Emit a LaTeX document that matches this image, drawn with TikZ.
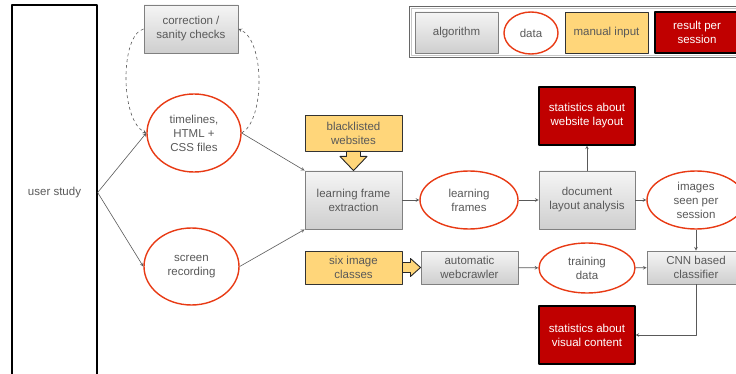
\documentclass[tikz,border=0pt]{standalone}
\usepackage{fontspec}
\setmainfont{Liberation Sans}
\usetikzlibrary{shapes.geometric}
\definecolor{txtgray}{HTML}{595959}
\definecolor{datared}{RGB}{232,58,20}
\definecolor{manualfill}{RGB}{255,214,122}
\definecolor{resultred}{HTML}{C00000}
\definecolor{algoline}{HTML}{808080}
\begin{document}
\begin{tikzpicture}[>=stealth,line join=round,x=1pt,y=-1pt,
	font=\fontsize{11.5}{14}\selectfont,
	box/.style={rectangle,inner sep=0pt,align=center,text=txtgray},
	algo/.style={box,draw=algoline,line width=0.9pt,top color=gray!8,bottom color=gray!38},
	data/.style={ellipse,inner sep=0pt,align=center,text=txtgray,draw=datared,line width=1.4pt,fill=white},
	manual/.style={box,draw=black!80,line width=0.9pt,fill=manualfill},
	result/.style={box,draw=black,line width=1.1pt,fill=resultred,text=white},
	link/.style={->,draw=black!65,line width=0.6pt},
	check/.style={link,dashed},
	blockarrow/.style={draw=black!85,line width=0.9pt,fill=manualfill}]
	\clip (0,0) rectangle (736,374);
	\useasboundingbox (0,0) rectangle (736,374);
	% legend
	\node[box,draw=black!60,line width=1pt,minimum width=336,minimum height=51] (legend) at (577,32.5) {};
	\node[box,draw=gray!45,line width=1pt,minimum width=332,minimum height=47] (legendin) at (577,32.5) {};
	\node[algo,minimum width=83,minimum height=41] (lalgo) at (456.5,32.5) {algorithm};
	\node[data,minimum width=54,minimum height=42] (ldata) at (531,33) {data};
	\node[manual,minimum width=83,minimum height=41] (lmanual) at (606.5,32.5) {manual input};
	\node[result,minimum width=84,minimum height=41] (lresult) at (697,32.5) {result per\\session};
	% left part
	\node[box,draw=black,line width=1.3pt,minimum width=85,minimum height=375] (study) at (54.5,192.5) {user study};
	\node[algo,minimum width=94,minimum height=48] (check) at (191,29) {correction /\\sanity checks};
	\node[data,minimum width=94,minimum height=78] (files) at (194,133) {timelines,\\HTML +\\CSS files};
	\node[data,minimum width=95,minimum height=77] (screen) at (191.5,266.5) {screen\\recording};
	% first row
	\node[manual,minimum width=97,minimum height=36] (black) at (353.5,133) {blacklisted\\websites};
	\node[algo,minimum width=97,minimum height=58] (extract) at (353.5,200) {learning frame\\extraction};
	\node[data,minimum width=98,minimum height=58] (frames) at (469,200) {learning\\frames};
	\node[algo,minimum width=96,minimum height=58] (layout) at (587,200) {document\\layout analysis};
	\node[result,minimum width=96,minimum height=58] (statlay) at (587,116) {statistics about\\website layout};
	\node[data,minimum width=98,minimum height=58] (seen) at (696,200) {images\\seen per\\session};
	% second row
	\node[manual,minimum width=97,minimum height=33] (classes) at (353.5,267.5) {six image\\classes};
	\node[algo,minimum width=97,minimum height=33] (crawler) at (469.5,267.5) {automatic\\webcrawler};
	\node[data,minimum width=96,minimum height=50] (train) at (587,268) {training\\data};
	\node[algo,minimum width=98,minimum height=33] (cnn) at (696,267.5) {CNN based\\classifier};
	\node[result,minimum width=96,minimum height=58] (statvis) at (587,335) {statistics about\\visual content};
	% connectors
	\draw[link] (study.east) -- (files.west);
	\draw[link] (study.east) -- (screen.west);
	\draw[check] (check.west) .. controls (120,35) and (120,120) .. (files.west);
	\draw[check] (files.east) .. controls (265,120) and (265,40) .. (check.east);
	\draw[link] (files.east) -- (extract.north west);
	\draw[link] (screen.east) -- (extract.south west);
	\draw[link] (extract) -- (frames);
	\draw[link] (frames) -- (layout);
	\draw[link] (layout) -- (seen);
	\draw[link] (layout) -- (statlay);
	\draw[link] (seen) -- (cnn);
	\draw[link] (crawler) -- (train);
	\draw[link] (train) -- (cnn);
	\draw[link] (cnn.south) |- (statvis.east);
	% block arrows
	\draw[blockarrow] ([xshift=-7pt]black.south) -- ++(0,5) -- ++(-6.5,0) -- (extract.north)
		-- ([xshift=13.5pt,yshift=-5pt]black.south) -- ++(-6.5,0) -- ([xshift=7pt]black.south) -- cycle;
	\draw[blockarrow] ([yshift=5pt]classes.east) -- ++(8,0) -- ++(0,-4) -- (crawler.west)
		-- ([xshift=8pt,yshift=-9pt]classes.east) -- ++(0,-4) -- ([yshift=-5pt]classes.east) -- cycle;
\end{tikzpicture}
\end{document}
